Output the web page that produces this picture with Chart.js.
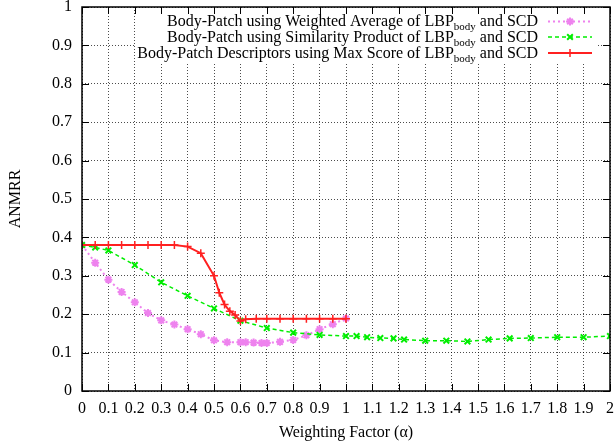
<!DOCTYPE html>
<html>
<head>
<meta charset="utf-8">
<script src="https://cdn.jsdelivr.net/npm/chart.js@4"></script>
<style>
    body { margin: 0; background: #fff; }
    canvas { display: block; }
</style>
</head>
<body>
<canvas id="anmrrChart" width="616" height="444"></canvas>
<script>
const ctx = document.getElementById('anmrrChart');

// Weighted average of LBP_body and SCD
const avgAlpha = [0, 0.05, 0.1, 0.15, 0.2, 0.25, 0.3, 0.35, 0.4, 0.45, 0.5, 0.55, 0.6, 0.62, 0.65, 0.68, 0.7, 0.75, 0.8, 0.85, 0.9, 0.95, 1.0];
const avgAnmrr = [0.38, 0.334, 0.29, 0.258, 0.231, 0.203, 0.184, 0.173, 0.161, 0.148, 0.132, 0.127, 0.127, 0.127, 0.126, 0.125, 0.125, 0.128, 0.133, 0.145, 0.161, 0.174, 0.189];

// Similarity product of LBP_body and SCD
const prodAlpha = [0, 0.05, 0.1, 0.2, 0.3, 0.4, 0.5, 0.6, 0.7, 0.8, 0.9, 1.0, 1.04, 1.08, 1.13, 1.18, 1.22, 1.3, 1.38, 1.46, 1.54, 1.62, 1.7, 1.8, 1.9, 2.0];
const prodAnmrr = [0.38, 0.374, 0.366, 0.328, 0.283, 0.248, 0.215, 0.183, 0.164, 0.152, 0.146, 0.143, 0.143, 0.14, 0.138, 0.137, 0.134, 0.131, 0.131, 0.129, 0.134, 0.137, 0.138, 0.14, 0.14, 0.143];

// Max score of LBP_body and SCD
const maxAlpha = [0, 0.05, 0.1, 0.15, 0.2, 0.25, 0.3, 0.35, 0.4, 0.45, 0.5, 0.52, 0.54, 0.56, 0.58, 0.6, 0.62, 0.66, 0.7, 0.75, 0.8, 0.85, 0.9, 0.95, 1.0];
const maxAnmrr = [0.38, 0.38, 0.38, 0.38, 0.38, 0.38, 0.38, 0.38, 0.376, 0.359, 0.30, 0.256, 0.225, 0.208, 0.198, 0.182, 0.187, 0.188, 0.188, 0.188, 0.188, 0.188, 0.188, 0.188, 0.188];

const legendLabels = [
    ['Body-Patch using Weighted Average of LBP', 'body', ' and SCD'],
    ['Body-Patch using Similarity Product of LBP', 'body', ' and SCD'],
    ['Body-Patch Descriptors using Max Score of LBP', 'body', ' and SCD']
];

const xTitle = 'Weighting Factor (\u03b1)';
const yTitle = 'ANMRR';

const fontFamily = '"Liberation Serif", "DejaVu Serif", serif';
const fontSize = 16;

function toPoints(xs, ys) {
    return xs.map((x, i) => ({ x: x, y: ys[i] }));
}

function fmt(value) {
    return String(Number(value.toFixed(1)));
}

const series = [
    { data: toPoints(avgAlpha, avgAnmrr), color: '#ee82ee', dash: [2, 3], width: 2, point: 'star', pointWidth: 2, order: 3 },
    { data: toPoints(prodAlpha, prodAnmrr), color: '#00ee00', dash: [4, 3], width: 1.5, point: 'crossRot', pointWidth: 2, order: 2 },
    { data: toPoints(maxAlpha, maxAnmrr), color: '#ff2020', dash: [], width: 2, point: 'cross', pointWidth: 1.5, order: 1 }
];

// gnuplot-like frame: box, inward ticks and the key at top right
const framePlugin = {
    id: 'frame',
    beforeDatasetsDraw(chart) {
        const c = chart.ctx;
        c.save();
        c.fillStyle = '#fff';
        c.fillRect(136, chart.chartArea.top + 1, 462, 54);
        c.restore();
    },
    afterDraw(chart) {
        const c = chart.ctx;
        const a = chart.chartArea;
        const xs = chart.scales.x;
        const ys = chart.scales.y;
        const tl = 7;
        c.save();
        c.strokeStyle = '#000';
        c.lineWidth = 1;
        c.beginPath();
        xs.ticks.forEach(t => {
            const px = Math.round(xs.getPixelForValue(t.value)) + 0.5;
            c.moveTo(px, a.bottom); c.lineTo(px, a.bottom - tl);
            c.moveTo(px, a.top); c.lineTo(px, a.top + tl);
        });
        ys.ticks.forEach(t => {
            const py = Math.round(ys.getPixelForValue(t.value)) + 0.5;
            c.moveTo(a.left, py); c.lineTo(a.left + tl, py);
            c.moveTo(a.right, py); c.lineTo(a.right - tl, py);
        });
        c.stroke();
        c.lineWidth = 1.5;
        c.strokeRect(a.left, a.top, a.right - a.left, a.bottom - a.top);

        // key
        const textRight = 538;
        const rowY = [21, 36.5, 52.5];
        const mainFont = fontSize + 'px ' + fontFamily;
        const subFont = '11px ' + fontFamily;
        legendLabels.forEach((parts, i) => {
            const s = series[i];
            c.font = mainFont;
            const w1 = c.measureText(parts[0]).width;
            const w3 = c.measureText(parts[2]).width;
            c.font = subFont;
            const w2 = c.measureText(parts[1]).width;
            let x = textRight - w1 - w2 - w3;
            const base = rowY[i] + 5;
            c.fillStyle = '#000';
            c.textBaseline = 'alphabetic';
            c.textAlign = 'left';
            c.font = mainFont;
            c.fillText(parts[0], x, base);
            x += w1;
            c.font = subFont;
            c.fillText(parts[1], x, base + 4);
            x += w2;
            c.font = mainFont;
            c.fillText(parts[2], x, base);

            // sample line and marker
            c.strokeStyle = s.color;
            c.lineWidth = s.width;
            c.setLineDash(s.dash);
            c.beginPath();
            c.moveTo(548, rowY[i] + 0.5);
            c.lineTo(592, rowY[i] + 0.5);
            c.stroke();
            c.setLineDash([]);
            c.lineWidth = s.pointWidth;
            Chart.helpers.drawPoint(c, { pointStyle: s.point, radius: 4, rotation: 0, borderWidth: s.pointWidth }, 570, rowY[i] + 0.5);
        });
        c.restore();
    }
};

const datasets = series.map(s => ({
    data: s.data,
    borderColor: s.color,
    backgroundColor: s.color,
    borderWidth: s.width,
    borderDash: s.dash,
    pointStyle: s.point,
    pointRadius: 4,
    pointBorderWidth: s.pointWidth,
    pointBorderColor: s.color,
    tension: 0,
    fill: false,
    order: s.order
}));

const gridOptions = {
    color: 'rgba(0,0,0,0.7)',
    lineWidth: 1,
    drawTicks: false
};

new Chart(ctx, {
    type: 'line',
    data: { datasets: datasets },
    plugins: [framePlugin],
    options: {
        responsive: false,
        animation: false,
        events: [],
        layout: { padding: { top: 7, right: 4, left: 0, bottom: 0 } },
        plugins: {
            legend: { display: false },
            tooltip: { enabled: false }
        },
        scales: {
            x: {
                type: 'linear',
                min: 0,
                max: 2,
                border: { display: false, dash: [1, 2] },
                grid: gridOptions,
                ticks: {
                    stepSize: 0.1,
                    autoSkip: false,
                    maxRotation: 0,
                    minRotation: 0,
                    padding: 8,
                    color: '#000',
                    font: { family: fontFamily, size: fontSize },
                    callback: fmt
                },
                title: {
                    display: true,
                    text: xTitle,
                    color: '#000',
                    font: { family: fontFamily, size: fontSize },
                    padding: { top: 0, bottom: 2 }
                },
                afterFit(scale) {
                    scale.height = 53;
                    scale.paddingLeft = 0;
                    scale.paddingRight = 0;
                }
            },
            y: {
                min: 0,
                max: 1,
                border: { display: false, dash: [1, 2] },
                grid: gridOptions,
                ticks: {
                    stepSize: 0.1,
                    padding: 10,
                    color: '#000',
                    font: { family: fontFamily, size: fontSize },
                    callback: fmt
                },
                title: {
                    display: true,
                    text: yTitle,
                    color: '#000',
                    font: { family: fontFamily, size: fontSize },
                    padding: { top: 6, bottom: 0 }
                },
                afterFit(scale) {
                    scale.width = 82;
                    scale.paddingTop = 0;
                    scale.paddingBottom = 0;
                }
            }
        }
    }
});
</script>
</body>
</html>
